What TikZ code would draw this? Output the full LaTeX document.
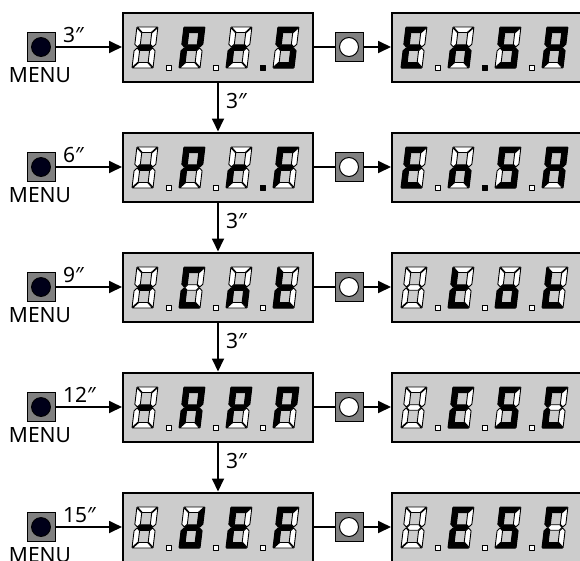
\documentclass[tikz,border=0pt]{standalone}
\usepackage{fontspec}
\setmainfont{Noto Sans}
\usetikzlibrary{arrows.meta}
\def\dW{21}
\def\dH{41}
\def\dT{5.5}
\def\dh{2.75}
\def\dg{0.55}
\def\dm{20.5}
% digit: x, bottom y, then a b c d e f g  (L = lit, U = unlit)
\newcommand\sdigit[9]{\begin{scope}[shift={(#1,#2)},xslant=0.12]
\draw[s#3] ({\dg},{-\dH}) -- ({\dW-\dg},{-\dH}) -- ({\dW-\dT-\dg},{-(\dH-\dT)}) -- ({\dT+\dg},{-(\dH-\dT)}) -- cycle;
\draw[s#4] ({\dW},{-(\dH-\dg)}) -- ({\dW-\dT},{-(\dH-\dT-\dg)}) -- ({\dW-\dT},{-(\dm+\dh+\dg)}) -- ({\dW-\dh},{-(\dm+\dg)}) -- ({\dW},{-(\dm+\dh+\dg)}) -- cycle;
\draw[s#5] ({\dW},{-\dg}) -- ({\dW-\dT},{-(\dT+\dg)}) -- ({\dW-\dT},{-(\dm-\dh-\dg)}) -- ({\dW-\dh},{-(\dm-\dg)}) -- ({\dW},{-(\dm-\dh-\dg)}) -- cycle;
\draw[s#6] ({\dg},0) -- ({\dW-\dg},0) -- ({\dW-\dT-\dg},{-\dT}) -- ({\dT+\dg},{-\dT}) -- cycle;
\draw[s#7] (0,{-\dg}) -- ({\dT},{-(\dT+\dg)}) -- ({\dT},{-(\dm-\dh-\dg)}) -- ({\dh},{-(\dm-\dg)}) -- (0,{-(\dm-\dh-\dg)}) -- cycle;
\draw[s#8] (0,{-(\dH-\dg)}) -- ({\dT},{-(\dH-\dT-\dg)}) -- ({\dT},{-(\dm+\dh+\dg)}) -- ({\dh},{-(\dm+\dg)}) -- (0,{-(\dm+\dh+\dg)}) -- cycle;
\draw[s#9] ({\dh+\dg},{-\dm}) -- ({\dT+\dg},{-(\dm+\dh)}) -- ({\dW-\dT-\dg},{-(\dm+\dh)}) -- ({\dW-\dh-\dg},{-\dm}) -- ({\dW-\dT-\dg},{-(\dm-\dh)}) -- ({\dT+\dg},{-(\dm-\dh)}) -- cycle;
\end{scope}}
% decimal point: digit x, digit bottom y, L/U
\newcommand\sdp[3]{\draw[s#3] ({#1+34},{#2+2}) rectangle ({#1+39},{#2-3});}
\tikzset{
  sL/.style={draw=black,fill=black,line width=1pt,line join=round},
  sU/.style={draw=black,fill=white,line width=0.9pt,line join=round},
  dispbox/.style={draw=black,fill=black!20,line width=2pt,minimum width=190pt,minimum height=69pt,inner sep=0pt},
  menubtn/.style={draw=black,fill=black!50,line width=1pt,minimum width=28pt,minimum height=29pt,inner sep=0pt},
  menudot/.style={circle,draw=black,fill=black!90!blue,line width=0.8pt,minimum size=19pt,inner sep=0pt},
  okbtn/.style={draw=black,fill=black!50,line width=1pt,minimum width=28pt,minimum height=29pt,inner sep=0pt},
  okdot/.style={circle,draw=black,fill=white,line width=1pt,minimum size=19pt,inner sep=0pt},
  lbl/.style={inner sep=0pt,font=\fontsize{21}{24}\selectfont},
  conn/.style={line width=1.8pt,draw=black},
  arr/.style={conn,-{Triangle[length=13pt,width=12pt]}}
}
\begin{document}
\begin{tikzpicture}[x=1pt,y=-1pt]
\useasboundingbox (0,0) rectangle (580,560);
\clip (0,0) rectangle (580,560);
% displays and buttons
\foreach \i/\cy/\tm in {1/47/3,2/167/6,3/287/9,4/407/12,5/527/15}{
  \node[dispbox] (L\i) at (218,\cy) {};
  \node[dispbox] (R\i) at (487,\cy) {};
  \node[menubtn] (M\i) at (41,\cy) {};
  \node[menudot] (MD\i) at (M\i) {};
  \node[okbtn] (B\i) at (349,\cy) {};
  \node[okdot] (BD\i) at (B\i) {};
  \node[lbl,anchor=base west] (T\i) at (63,\cy-5) {\tm″};
  \node[lbl,anchor=base] (MN\i) at (40,\cy+35) {MENU};
  \draw[arr] (M\i) -- (L\i);
  \draw[conn] (L\i) -- (B\i);
  \draw[arr] (B\i) -- (R\i);
}
\foreach \i/\j/\cy in {1/2/47,2/3/167,3/4/287,4/5/407}{
  \draw[arr] (L\i) -- (L\j);
  \node[lbl,anchor=base west] (V\i) at (226,\cy+61) {3″};
}
% ---- row 1 ----
\sdigit{132}{68}UUUUUUL \sdigit{179}{68}LLUULLL \sdigit{226}{68}UUUULUL \sdigit{273}{68}LULLULL
\sdp{132}{68}U \sdp{179}{68}U \sdp{226}{68}L
\sdigit{401}{68}LUULLLL \sdigit{448}{68}UULULUL \sdigit{495}{68}LULLULL \sdigit{542}{68}LLLULLL
\sdp{401}{68}U \sdp{448}{68}L \sdp{495}{68}U
% ---- row 2 ----
\sdigit{132}{188}UUUUUUL \sdigit{179}{188}LLUULLL \sdigit{226}{188}UUUULUL \sdigit{273}{188}LUUULLL
\sdp{132}{188}U \sdp{179}{188}U \sdp{226}{188}L
\sdigit{401}{188}LUULLLL \sdigit{448}{188}UULULUL \sdigit{495}{188}LULLULL \sdigit{542}{188}LLLULLL
\sdp{401}{188}U \sdp{448}{188}L \sdp{495}{188}U
% ---- row 3 ----
\sdigit{132}{308}UUUUUUL \sdigit{179}{308}LUULLLU \sdigit{226}{308}UULULUL \sdigit{273}{308}UUULLLL
\sdp{132}{308}U \sdp{179}{308}U \sdp{226}{308}U
\sdigit{401}{308}UUUUUUU \sdigit{448}{308}UUULLLL \sdigit{495}{308}UULLLUL \sdigit{542}{308}UUULLLL
\sdp{401}{308}U \sdp{448}{308}U \sdp{495}{308}U
% ---- row 4 ----
\sdigit{132}{428}UUUUUUL \sdigit{179}{428}LLLULLL \sdigit{226}{428}LLUULLL \sdigit{273}{428}LLUULLL
\sdp{132}{428}U \sdp{179}{428}U \sdp{226}{428}U
\sdigit{401}{428}UUUUUUU \sdigit{448}{428}LUULLLL \sdigit{495}{428}LULLULL \sdigit{542}{428}LUULLLU
\sdp{401}{428}U \sdp{448}{428}U \sdp{495}{428}U
% ---- row 5 ----
\sdigit{132}{548}UUUUUUL \sdigit{179}{548}ULLLLUL \sdigit{226}{548}LUULLLL \sdigit{273}{548}LUUULLL
\sdp{132}{548}U \sdp{179}{548}U \sdp{226}{548}U
\sdigit{401}{548}UUUUUUU \sdigit{448}{548}LUULLLL \sdigit{495}{548}LULLULL \sdigit{542}{548}LUULLLU
\sdp{401}{548}U \sdp{448}{548}U \sdp{495}{548}U
\end{tikzpicture}
\end{document}
